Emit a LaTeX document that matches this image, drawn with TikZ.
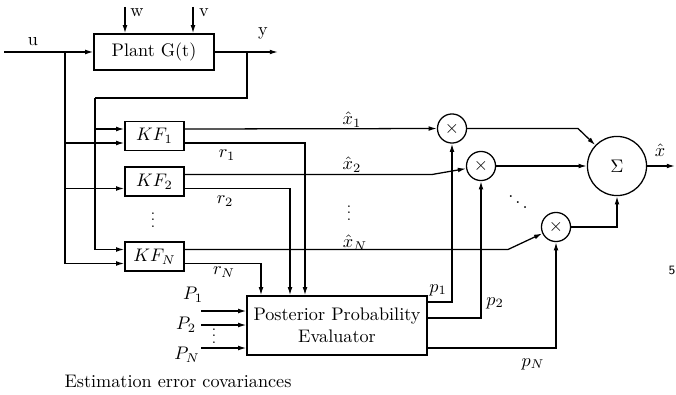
\documentclass[tikz,border=0pt]{standalone}
\usetikzlibrary{arrows.meta}
\newcommand{\myvdots}{\vbox{\baselineskip3.6pt\lineskiplimit0pt\hbox{.}\hbox{.}\hbox{.}}}
\begin{document}
\begin{tikzpicture}[x=0.55pt,y=-0.55pt,
  line width=0.7pt,
  arr/.style={-{Latex[length=4.5pt,width=2.6pt]}},
  blk/.style={draw,rectangle,inner sep=0pt},
  kfbox/.style={blk,minimum width=32.5pt,minimum height=16pt},
  mult/.style={draw,circle,minimum size=16pt,inner sep=0pt},
  lbl/.style={inner sep=0pt}]
\useasboundingbox (0,0) rectangle (676,394);
% blocks
\node[blk,minimum width=66pt,minimum height=19.8pt] (plant) at (154,52) {Plant G(t)};
\node[kfbox] (kf1) at (154.5,136) {$KF_1$};
\node[kfbox] (kf2) at (154.5,181.5) {$KF_2$};
\node[kfbox] (kfn) at (154.5,256.5) {$KF_N$};
\node[blk,minimum width=99pt,minimum height=32.5pt,align=center] (ppe) at (337,325.5) {Posterior Probability\\Evaluator};
\node[mult] (m1) at (452,128.5) {$\times$};
\node[mult] (m2) at (481,166) {$\times$};
\node[mult] (mn) at (556,227) {$\times$};
\node[draw,circle,minimum size=32.5pt,inner sep=0pt] (sum) at (617,166) {$\Sigma$};
% port coordinates
\foreach \k in {kf1,kf2,kfn}{
  \coordinate (\k-ui) at ([yshift=3.85pt]\k.west);
  \coordinate (\k-li) at ([yshift=-3.85pt]\k.west);
  \coordinate (\k-uo) at ([yshift=3.85pt]\k.east);
  \coordinate (\k-lo) at ([yshift=-3.85pt]\k.east);
}
\coordinate (uin) at (4,52);
\coordinate (ub) at (65,52);
\coordinate (yb) at (247,52);
\coordinate (yout) at (278,52);
\coordinate (yd) at (247,98);
\coordinate (yl) at (95,98);
\coordinate (wtop) at (125,7);
\coordinate (vtop) at (193,7);
\coordinate (c2) at (432,174.5);
\coordinate (cn) at (508,249.5);
\coordinate (r1d) at (305,0);
\coordinate (r2d) at (290,0);
\coordinate (rnd) at (261,0);
\coordinate (p1s) at (201,311);
\coordinate (p2s) at (201,325);
\coordinate (pns) at (201,348);
\coordinate (q1) at (451,302);
\coordinate (q2) at (481,318);
\coordinate (qn) at (557,348);
\coordinate (s1) at (578,128.5);
\coordinate (xout) at (675,166);
% plant connections
\draw[arr] (uin) -- (plant.west);
\draw[arr] (plant.east) -- (yout);
\draw[arr] (wtop) -- (wtop |- plant.north);
\draw[arr] (vtop) -- (vtop |- plant.north);
% branches to filters
\draw (yb) -- (yd) -- (yl);
\draw[arr] (yl) |- (kfn-ui);
\draw[arr] (yl |- kf1-ui) -- (kf1-ui);
\draw[arr] (ub) |- (kfn-li);
\draw[arr] (ub |- kf1-li) -- (kf1-li);
\draw[arr] (ub |- kf2-li) -- (kf2-li);
% estimates
\draw[arr] (kf1-uo) -- (m1);
\draw[arr] (kf2-uo) -- (c2) -- (m2);
\draw[arr] (kfn-uo) -- (cn) -- (mn);
% residuals
\draw[arr] (kf1-lo) -| (r1d |- ppe.north);
\draw[arr] (kf2-lo) -| (r2d |- ppe.north);
\draw[arr] (kfn-lo) -| (rnd |- ppe.north);
% covariances
\draw[arr] (p1s) -- (p1s -| ppe.west);
\draw[arr] (p2s) -- (p2s -| ppe.west);
\draw[arr] (pns) -- (pns -| ppe.west);
% probabilities
\draw[arr] (ppe.east |- q1) -| (m1);
\draw[arr] (ppe.east |- q2) -| (m2);
\draw[arr] (ppe.east |- qn) -| (mn);
% to sum
\draw[arr] (m1) -- (s1) -- (sum);
\draw[arr] (m2) -- (sum);
\draw[arr] (mn) -| (sum);
\draw[arr] (sum) -- (xout);
% labels
\node[lbl] at (33,42) {u};
\node[lbl] at (137,13) {w};
\node[lbl] at (204,13) {v};
\node[lbl] at (263,33) {y};
\node[lbl] at (352,120) {$\hat{x}_1$};
\node[lbl] at (352,165) {$\hat{x}_2$};
\node[lbl] at (355,243) {$\hat{x}_N$};
\node[lbl] at (227,155) {$r_1$};
\node[lbl] at (225,201) {$r_2$};
\node[lbl] at (224,272) {$r_N$};
\node[lbl] at (438,290) {$p_1$};
\node[lbl] at (495,303) {$p_2$};
\node[lbl] at (533,364) {$p_N$};
\node[lbl] at (193,295) {$P_1$};
\node[lbl] at (186,325) {$P_2$};
\node[lbl] at (187,355) {$P_N$};
\node[lbl] at (660,150) {$\hat{x}$};
\node[lbl] at (178,381) {Estimation error covariances};
\node[lbl] at (153,220) {\footnotesize\myvdots};
\node[lbl] at (349,213) {\footnotesize\myvdots};
\node[lbl] at (214,336) {\footnotesize\myvdots};
\node[lbl] at (518,197) {$\ddots$};
\node[lbl] at (672,270) {\fontsize{7}{8}\selectfont\sffamily 5};
\end{tikzpicture}
\end{document}
